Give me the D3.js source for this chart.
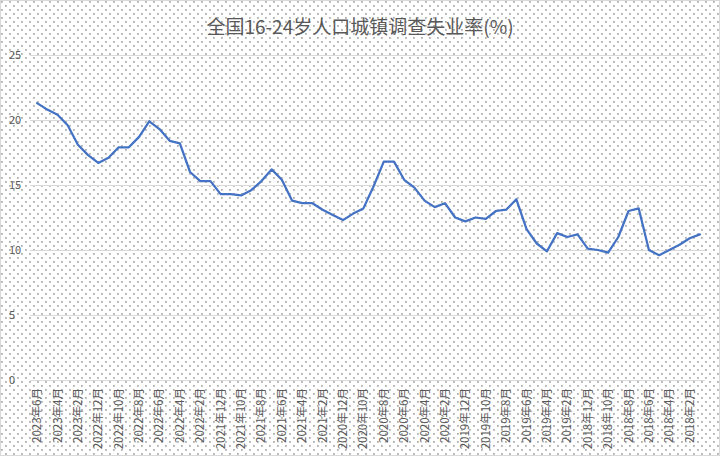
<!DOCTYPE html>
<html>
<head>
<meta charset="utf-8">
<script src="https://cdn.jsdelivr.net/npm/d3@7"></script>
<style>
  html, body { margin: 0; padding: 0; background: #fff; }
  svg { display: block; font-family: "Noto Sans CJK SC", "Noto Sans", sans-serif; }
</style>
</head>
<body>
<svg id="chart" width="720" height="456"></svg>
<script>
const title = "全国16-24岁人口城镇调查失业率(%)";
const months = [
  "2023年6月","2023年5月","2023年4月","2023年3月","2023年2月","2023年1月",
  "2022年12月","2022年11月","2022年10月","2022年9月","2022年8月","2022年7月","2022年6月","2022年5月","2022年4月","2022年3月","2022年2月","2022年1月",
  "2021年12月","2021年11月","2021年10月","2021年9月","2021年8月","2021年7月","2021年6月","2021年5月","2021年4月","2021年3月","2021年2月","2021年1月",
  "2020年12月","2020年11月","2020年10月","2020年9月","2020年8月","2020年7月","2020年6月","2020年5月","2020年4月","2020年3月","2020年2月","2020年1月",
  "2019年12月","2019年11月","2019年10月","2019年9月","2019年8月","2019年7月","2019年6月","2019年5月","2019年4月","2019年3月","2019年2月","2019年1月",
  "2018年12月","2018年11月","2018年10月","2018年9月","2018年8月","2018年7月","2018年6月","2018年5月","2018年4月","2018年3月","2018年2月","2018年1月"
];
const rates = [
  21.3,20.8,20.4,19.6,18.1,17.3,
  16.7,17.1,17.9,17.9,18.7,19.9,19.3,18.4,18.2,16.0,15.3,15.3,
  14.3,14.3,14.2,14.6,15.3,16.2,15.4,13.8,13.6,13.6,13.1,12.7,
  12.3,12.8,13.2,14.9,16.8,16.8,15.4,14.8,13.8,13.3,13.6,12.5,
  12.2,12.5,12.4,13.0,13.1,13.9,11.6,10.5,9.9,11.3,11.0,11.2,
  10.1,10.0,9.8,11.0,13.0,13.2,10.0,9.6,10.0,10.4,10.9,11.2
];
const yTicks = [0, 5, 10, 15, 20, 25];

const svg = d3.select("#chart");
const W = 720, H = 456;
const plot = { left: 32, right: 705, top: 55, bottom: 380 };

// dotted background pattern
const defs = svg.append("defs");
const pat = defs.append("pattern").attr("id", "dots").attr("patternUnits", "userSpaceOnUse")
  .attr("width", 8).attr("height", 8);
pat.append("rect").attr("width", 8).attr("height", 8).attr("fill", "#ffffff");
pat.append("rect").attr("x", 1).attr("y", 1).attr("width", 1.8).attr("height", 1.8).attr("fill", "#b0b0b0");
pat.append("rect").attr("x", 5).attr("y", 5).attr("width", 1.8).attr("height", 1.8).attr("fill", "#b0b0b0");

svg.append("rect").attr("x", 0.5).attr("y", 0.5).attr("width", W - 1).attr("height", H - 1)
  .attr("fill", "url(#dots)").attr("stroke", "#d9d9d9");

const x = d3.scalePoint().domain(months).range([plot.left, plot.right]).padding(0.5);
const y = d3.scaleLinear().domain([0, 25]).range([plot.bottom, plot.top]);

// gridlines
svg.append("g").selectAll("line").data(yTicks).join("line")
  .attr("x1", plot.left - 2).attr("x2", plot.right)
  .attr("y1", d => Math.round(y(d)) + 0.5).attr("y2", d => Math.round(y(d)) + 0.5)
  .attr("stroke", "#d9d9d9").attr("stroke-width", 1);

// y labels
svg.append("g").selectAll("text").data(yTicks).join("text")
  .attr("x", 9).attr("y", d => y(d)).attr("dy", "0.35em")
  .attr("font-size", 11).attr("fill", "#595959").text(d => d);

// x labels (every other month)
svg.append("g").selectAll("text").data(months.filter((d, i) => i % 2 === 0)).join("text")
  .attr("transform", d => `translate(${x(d)},${plot.bottom + 8}) rotate(-90)`)
  .attr("text-anchor", "end").attr("dy", "0.35em")
  .attr("font-size", 11.5).attr("fill", "#595959").text(d => d);

// line
const line = d3.line().x((d, i) => x(months[i])).y(d => y(d));
svg.append("path").datum(rates).attr("d", line)
  .attr("fill", "none").attr("stroke", "#4472C4").attr("stroke-width", 2.25)
  .attr("stroke-linejoin", "round").attr("stroke-linecap", "round");

// title
svg.append("text").attr("x", 360).attr("y", 27).attr("dy", "0.35em")
  .attr("text-anchor", "middle").attr("font-size", 19).attr("fill", "#595959").text(title);
</script>
</body>
</html>
